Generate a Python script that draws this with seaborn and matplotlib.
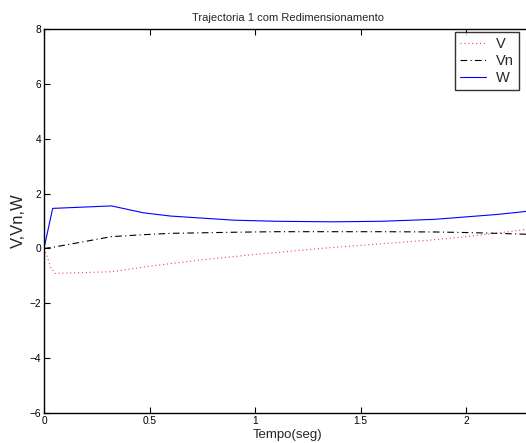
import matplotlib
matplotlib.use("Agg")
import matplotlib.pyplot as plt
import seaborn as sns
import pandas as pd

t_v = [0, 0.015, 0.03, 0.052, 0.32, 0.5, 0.74, 1.0, 1.31, 1.6, 1.84, 2.0, 2.15, 2.31]
v = [0, -0.3, -0.67, -0.91, -0.85, -0.65, -0.42, -0.22, 0.0, 0.17, 0.31, 0.43, 0.56, 0.72]

t_vn = [0, 0.041, 0.32, 0.47, 0.6, 0.9, 1.1, 1.37, 1.6, 1.85, 2.0, 2.15, 2.31]
vn = [0, 0.04, 0.43, 0.50, 0.55, 0.59, 0.61, 0.61, 0.61, 0.60, 0.58, 0.55, 0.51]

t_w = [0, 0.041, 0.32, 0.47, 0.6, 0.9, 1.1, 1.37, 1.6, 1.85, 2.0, 2.15, 2.31]
w = [0, 1.46, 1.55, 1.30, 1.18, 1.03, 0.99, 0.97, 0.99, 1.06, 1.15, 1.24, 1.37]

x_ticks = [0, 0.5, 1, 1.5, 2]
y_ticks = [-6, -4, -2, 0, 2, 4, 6, 8]

sns.set_theme(style="white")
plt.rcParams['font.family'] = ['Liberation Sans', 'DejaVu Sans']
plt.rcParams['axes.unicode_minus'] = True

df = pd.concat([
    pd.DataFrame({"t": t_v, "val": v, "serie": "V"}),
    pd.DataFrame({"t": t_vn, "val": vn, "serie": "Vn"}),
    pd.DataFrame({"t": t_w, "val": w, "serie": "W"}),
], ignore_index=True)

fig = plt.figure(figsize=(5.26, 4.43), dpi=100)
ax = fig.add_axes([44/526, 30/443, 488/526, 384/443])

palette = {"V": "#ff4040", "Vn": "black", "W": "blue"}
sns.lineplot(data=df, x="t", y="val", hue="serie", palette=palette, sort=False,
             estimator=None, ax=ax, legend=False, linewidth=0.8)
styles = {"V": (0, (1, 2.5)), "Vn": (0, (6, 3, 1, 3)), "W": "-"}
for line, s in zip(ax.get_lines(), ["V", "Vn", "W"]):
    line.set_linestyle(styles[s])
    line.set_label(s)

ax.set_xlim(0, 488/211)
ax.set_ylim(-6, 8)
ax.set_xticks(x_ticks)
ax.set_xticklabels(["0", "0.5", "1", "1.5", "2"])
ax.set_yticks(y_ticks)
ax.tick_params(direction="in", length=4, width=0.8, labelsize=7.3, colors="black",
               top=True, right=True, left=True, bottom=True, pad=2)
for sp in ax.spines.values():
    sp.set_visible(True)
    sp.set_color("black")
    sp.set_linewidth(1.0)

ax.set_title("Trajectoria 1 com Redimensionamento", fontsize=8, pad=6)
ax.set_xlabel("Tempo(seg)", fontsize=9.5, labelpad=2.5)
ax.set_ylabel("V,Vn,W", fontsize=12, labelpad=3)

leg = fig.legend(handles=ax.get_lines(), labels=["V", "Vn", "W"],
                 loc="upper left", bbox_to_anchor=(455/526, 1 - 32/443),
                 fontsize=10.5, frameon=True, fancybox=False, handlelength=1.8,
                 borderpad=0.35, labelspacing=0.2, handletextpad=0.65,
                 borderaxespad=0)
leg.get_frame().set_edgecolor("black")
leg.get_frame().set_linewidth(1.0)

fig.savefig("out.png", dpi=100)
